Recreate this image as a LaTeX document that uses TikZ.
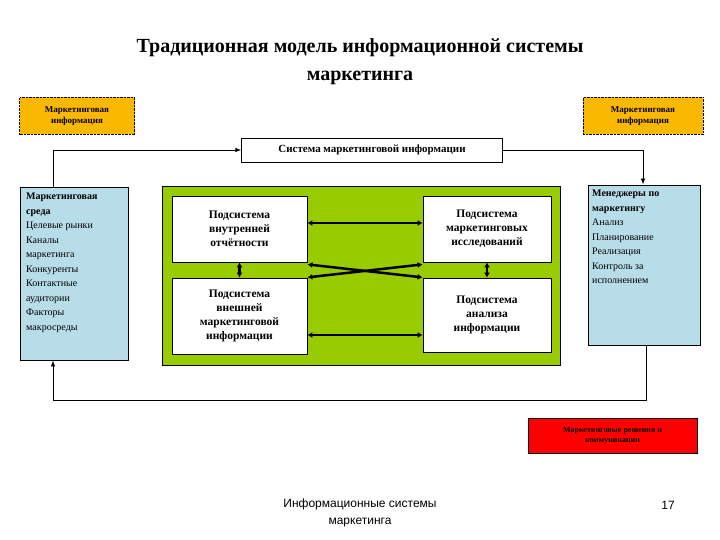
\documentclass[tikz,border=0pt]{standalone}
\usepackage{fontspec}
\setmainfont{Liberation Serif}
\newfontfamily\arialf{Liberation Sans}
\usetikzlibrary{arrows.meta}
\definecolor{orng}{RGB}{250,185,0}
\definecolor{lblue}{RGB}{183,221,232}
\definecolor{grn}{RGB}{153,204,0}
\begin{document}
\begin{tikzpicture}[x=1pt,y=-1pt,
  box/.style={draw,thick,fill=white,align=center,font=\bfseries\fontsize{11.5}{14}\selectfont,inner sep=2pt},
  obox/.style={draw,densely dotted,fill=orng,align=center,font=\bfseries\fontsize{9}{11}\selectfont},
  bbox/.style={align=left,anchor=north west,font=\fontsize{10}{14.5}\selectfont,inner sep=4pt},
  arr/.style={-{Latex[length=6pt]},thick},
  darr/.style={{Latex[length=5pt,width=6pt]}-{Latex[length=5pt,width=6pt]},line width=2.5pt}]
\useasboundingbox (0,0) rectangle (720,540);
\node[align=center,font=\bfseries\fontsize{20}{28}\selectfont] (title) at (360,62) {Традиционная модель информационной системы\\маркетинга};
\node[obox,minimum width=115pt,minimum height=37pt] (o1) at (77,116) {Маркетинговая\\информация};
\node[obox,minimum width=120pt,minimum height=37pt] (o2) at (643,116) {Маркетинговая\\информация};
\node[draw,fill=white,font=\bfseries\fontsize{11}{13}\selectfont,minimum width=261pt,minimum height=24pt] (sys) at (372,150) {Система маркетинговой информации};
\node[draw,thick,fill=lblue,minimum width=108pt,minimum height=173pt] (lb) at (74,273.5) {};
\node[bbox] (lbt) at (22,189) {\textbf{Маркетинговая}\\\textbf{среда}\\Целевые рынки\\ Каналы\\маркетинга\\ Конкуренты\\ Контактные\\аудитории\\ Факторы\\макросреды};
\node[draw,thick,fill=lblue,minimum width=112pt,minimum height=160pt] (rb) at (644,265) {};
\node[bbox] (rbt) at (588,186) {\textbf{Менеджеры по}\\\textbf{маркетингу}\\Анализ\\Планирование\\Реализация\\Контроль за\\исполнением};
\node[draw,fill=grn,minimum width=398pt,minimum height=179pt] (g) at (361,275.5) {};
\node[box,minimum width=135pt,minimum height=66pt] (a) at (239.5,229) {Подсистема\\внутренней\\отчётности};
\node[box,minimum width=128pt,minimum height=66pt] (b) at (487,229) {Подсистема\\маркетинговых\\исследований};
\node[box,minimum width=135pt,minimum height=76pt] (c) at (239.5,316) {Подсистема\\внешней\\маркетинговой\\информации};
\node[box,minimum width=128pt,minimum height=74pt] (d) at (487,315) {Подсистема\\анализа\\информации};
\node[draw,fill=red,font=\bfseries\fontsize{8}{10}\selectfont,align=center,minimum width=169pt,minimum height=35pt] (red) at (612.5,435.5) {Маркетинговые решения и\\коммуникации};
\node[font=\arialf\fontsize{12}{17}\selectfont,align=center] (foot) at (360,513) {Информационные системы\\маркетинга};
\node[font=\arialf\fontsize{12}{14}\selectfont] (num) at (668,505) {17};
\coordinate (tl) at (53,150);
\coordinate (tr) at (643,150);
\coordinate (br) at (646,400);
\coordinate (bl) at (53,400);
\draw[arr] (lb.north -| tl) -- (tl) -- (sys.west);
\draw[arr] (sys.east) -- (tr) -- (rb.north -| tr);
\draw[thick] (rb.south -| br) -- (br) -- (bl);
\draw[arr] (bl) -- (lb.south -| bl);
\draw[darr] ([yshift=6pt]a.east) -- ([yshift=6pt]b.west);
\draw[darr] ([yshift=-19pt]c.east) -- ([yshift=-20pt]d.west);
\draw[darr] (a.south) -- (c.north);
\draw[darr] (b.south) -- (d.north);
\draw[darr] ([yshift=-2pt]a.south east) -- ([yshift=-15pt]b.south west);
\draw[darr] ([yshift=-15pt]a.south east) -- ([yshift=-2pt]b.south west);
\end{tikzpicture}
\end{document}
